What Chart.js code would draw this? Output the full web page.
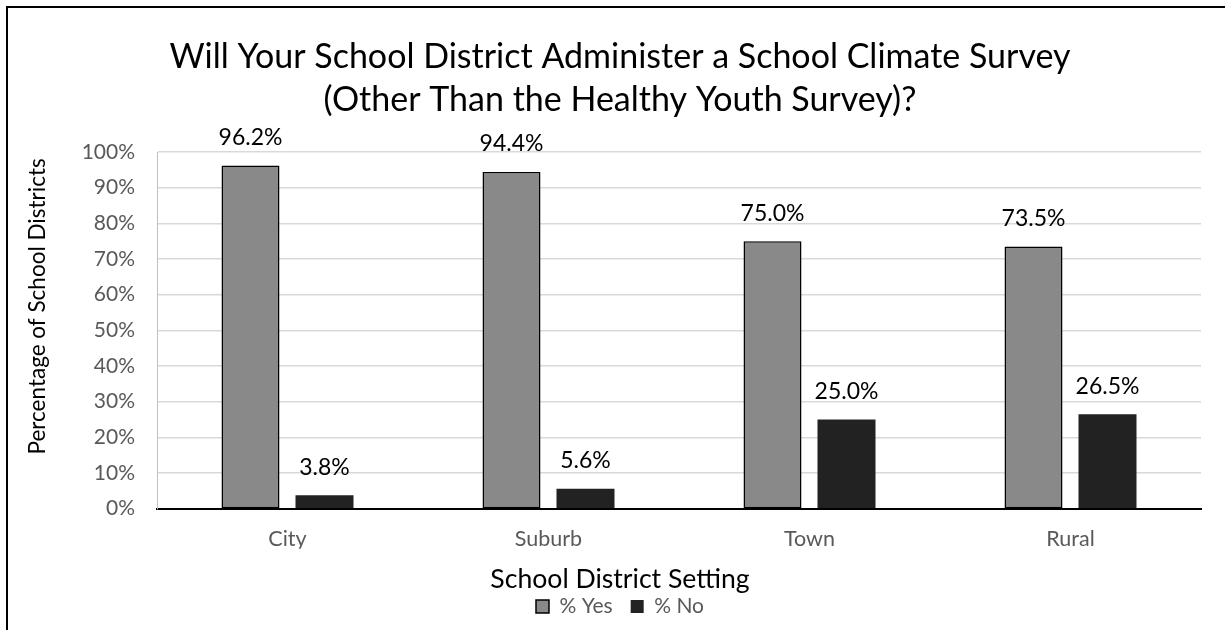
<!DOCTYPE html>
<html>
<head>
<meta charset="utf-8">
<script src="https://cdn.jsdelivr.net/npm/chart.js@4/dist/chart.umd.min.js"></script>
<style>
  html, body { margin: 0; padding: 0; background: #fff; }
  #wrap { position: relative; width: 1225px; height: 630px; overflow: hidden; }
  #frame { position: absolute; left: 6px; top: 6px; width: 1240px; height: 660px;
           border: 2px solid #000; box-sizing: border-box; pointer-events: none; }
  canvas { position: absolute; left: 0; top: 0; }
</style>
</head>
<body>
<div id="wrap">
  <canvas id="chart" width="1225" height="650" style="width:1225px;height:650px"></canvas>
  <div id="frame"></div>
</div>
<script>
// Survey responses by district setting (percent of districts)
const categories = ['City', 'Suburb', 'Town', 'Rural'];
const yesValues = [96.2, 94.4, 75.0, 73.5];
const noValues = [3.8, 5.6, 25.0, 26.5];
const yTickValues = [0, 10, 20, 30, 40, 50, 60, 70, 80, 90, 100];
const seriesNames = ['% Yes', '% No'];
const yAxisTitle = 'Percentage of School Districts';

const FONT = 'Lato, "Open Sans", sans-serif';

// Value labels above each bar
const barValueLabels = {
  id: 'barValueLabels',
  afterDatasetsDraw(chart) {
    const ctx = chart.ctx;
    ctx.save();
    ctx.font = '23px ' + FONT;
    ctx.fillStyle = '#000';
    ctx.textAlign = 'center';
    ctx.textBaseline = 'middle';
    chart.data.datasets.forEach((ds, i) => {
      chart.getDatasetMeta(i).data.forEach((bar, j) => {
        ctx.fillText(ds.data[j].toFixed(1) + '%', bar.x, bar.y - 28);
      });
    });
    ctx.restore();
  }
};

// Rotated value-axis title, set a little above the plot's vertical middle
const valueAxisTitle = {
  id: 'valueAxisTitle',
  afterDraw(chart) {
    const { ctx, chartArea } = chart;
    const x = chart.scales.y.left - 1;
    const y = (chartArea.top + chartArea.bottom) / 2 - 24;
    ctx.save();
    ctx.translate(x, y);
    ctx.rotate(-Math.PI / 2);
    ctx.font = '22.5px ' + FONT;
    ctx.fillStyle = '#000';
    ctx.textAlign = 'center';
    ctx.textBaseline = 'middle';
    ctx.fillText(yAxisTitle, 0, 0);
    ctx.restore();
  }
};

new Chart(document.getElementById('chart'), {
  type: 'bar',
  data: {
    labels: categories,
    datasets: [
      { label: seriesNames[0], data: yesValues, backgroundColor: '#898989',
        borderColor: '#000', borderWidth: 1.5, borderSkipped: false },
      { label: seriesNames[1], data: noValues, backgroundColor: '#222222',
        borderColor: '#222222', borderWidth: 0 }
    ]
  },
  options: {
    responsive: false,
    animation: false,
    devicePixelRatio: 1,
    categoryPercentage: 0.567,
    barPercentage: 0.784,
    layout: { padding: { left: 39, right: 24, top: 10, bottom: 23 } },
    plugins: {
      tooltip: { enabled: false },
      title: {
        display: true,
        text: ['Will Your School District Administer a School Climate Survey',
               '(Other Than the Healthy Youth Survey)?'],
        color: '#000',
        font: { family: FONT, size: 34, weight: 'normal', lineHeight: 1.28 },
        padding: { top: 25, bottom: 30 }
      },
      legend: {
        position: 'bottom',
        title: {
          display: true,
          text: 'School District Setting',
          color: '#000',
          font: { family: FONT, size: 26.6, weight: 'normal', lineHeight: 0.5 },
          padding: { top: 17, bottom: -1 }
        },
        labels: {
          color: '#595959',
          font: { family: FONT, size: 21, lineHeight: 0.8 },
          boxWidth: 13, boxHeight: 13, padding: 18
        }
      }
    },
    scales: {
      x: {
        grid: { display: false, drawTicks: false },
        border: { display: true, color: '#000', width: 2 },
        ticks: { color: '#595959', font: { family: FONT, size: 21.5 }, padding: 17 },
        afterFit(scale) { scale.height = 40; }
      },
      y: {
        min: 0, max: 100,
        afterBuildTicks(scale) { scale.ticks = yTickValues.map(v => ({ value: v })); },
        grid: { color: '#d9d9d9', lineWidth: 1.5, drawTicks: false },
        border: { display: true, color: '#bfbfbf', width: 1 },
        ticks: { color: '#595959', font: { family: FONT, size: 21 }, padding: 22,
                 callback: v => v + '%' },
        afterFit(scale) { scale.width = 118; }
      }
    }
  },
  plugins: [barValueLabels, valueAxisTitle]
});
</script>
</body>
</html>
